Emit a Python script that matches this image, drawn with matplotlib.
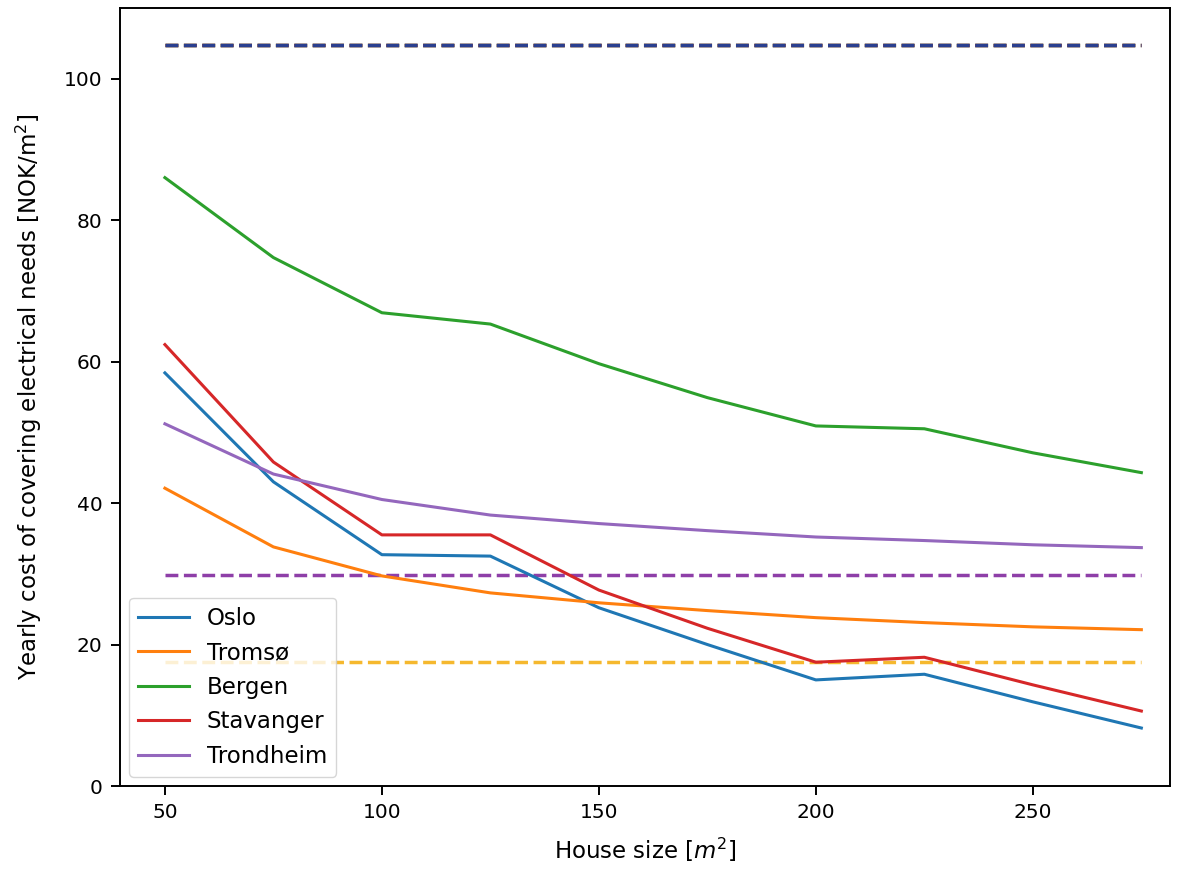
import numpy as np
import matplotlib.pyplot as plt

# house sizes in m^2
sizes = [50, 75, 100, 125, 150, 175, 200, 225, 250, 275]

# yearly cost per m^2 for each city
oslo = [58.4, 43.0, 32.7, 32.5, 25.2, 20.0, 15.0, 15.8, 11.9, 8.2]
tromso = [42.1, 33.8, 29.7, 27.3, 25.9, 24.8, 23.8, 23.1, 22.5, 22.1]
bergen = [86.0, 74.7, 66.9, 65.3, 59.7, 54.9, 50.9, 50.5, 47.1, 44.3]
stavanger = [62.4, 45.8, 35.5, 35.5, 27.7, 22.3, 17.5, 18.2, 14.3, 10.6]
trondheim = [51.2, 44.1, 40.5, 38.3, 37.1, 36.1, 35.2, 34.7, 34.1, 33.7]

cities = ["Oslo", "Tromsø", "Bergen", "Stavanger", "Trondheim"]
series = [oslo, tromso, bergen, stavanger, trondheim]

# flat reference levels (dashed)
ref_levels = [104.7, 104.7, 104.7, 29.8, 17.6]
ref_colors = ["tab:green", "tab:red", "#2a3f8f", "#8e3fa8", "#f5b82e"]

fig = plt.figure(figsize=(11.86, 8.72), dpi=100)
ax = fig.add_axes([0.101, 0.0986, 0.8855, 0.8924])

for level, color in zip(ref_levels, ref_colors):
    ax.plot([sizes[0], sizes[-1]], [level, level], color=color,
            linestyle="--", linewidth=2.5)

for name, vals in zip(cities, series):
    ax.plot(sizes, vals, label=name, linewidth=2.2)

ax.set_xlim(39.6, 281.6)
ax.set_ylim(0, 110)
ax.set_xticks([50, 100, 150, 200, 250])
ax.set_yticks([0, 20, 40, 60, 80, 100])
ax.tick_params(labelsize=14.5, length=6.5, width=1.4, pad=6)
for spine in ax.spines.values():
    spine.set_linewidth(1.4)
ax.set_xlabel("House size [$m^2$]", fontsize=16.5, labelpad=10)
ax.set_ylabel("Yearly cost of covering electrical needs [NOK/m$^2$]",
              fontsize=16.5, labelpad=14)
ax.legend(loc="lower left", fontsize=16.5, handlelength=2.2,
          borderaxespad=0.4)

fig.savefig("out.png", dpi=100)
